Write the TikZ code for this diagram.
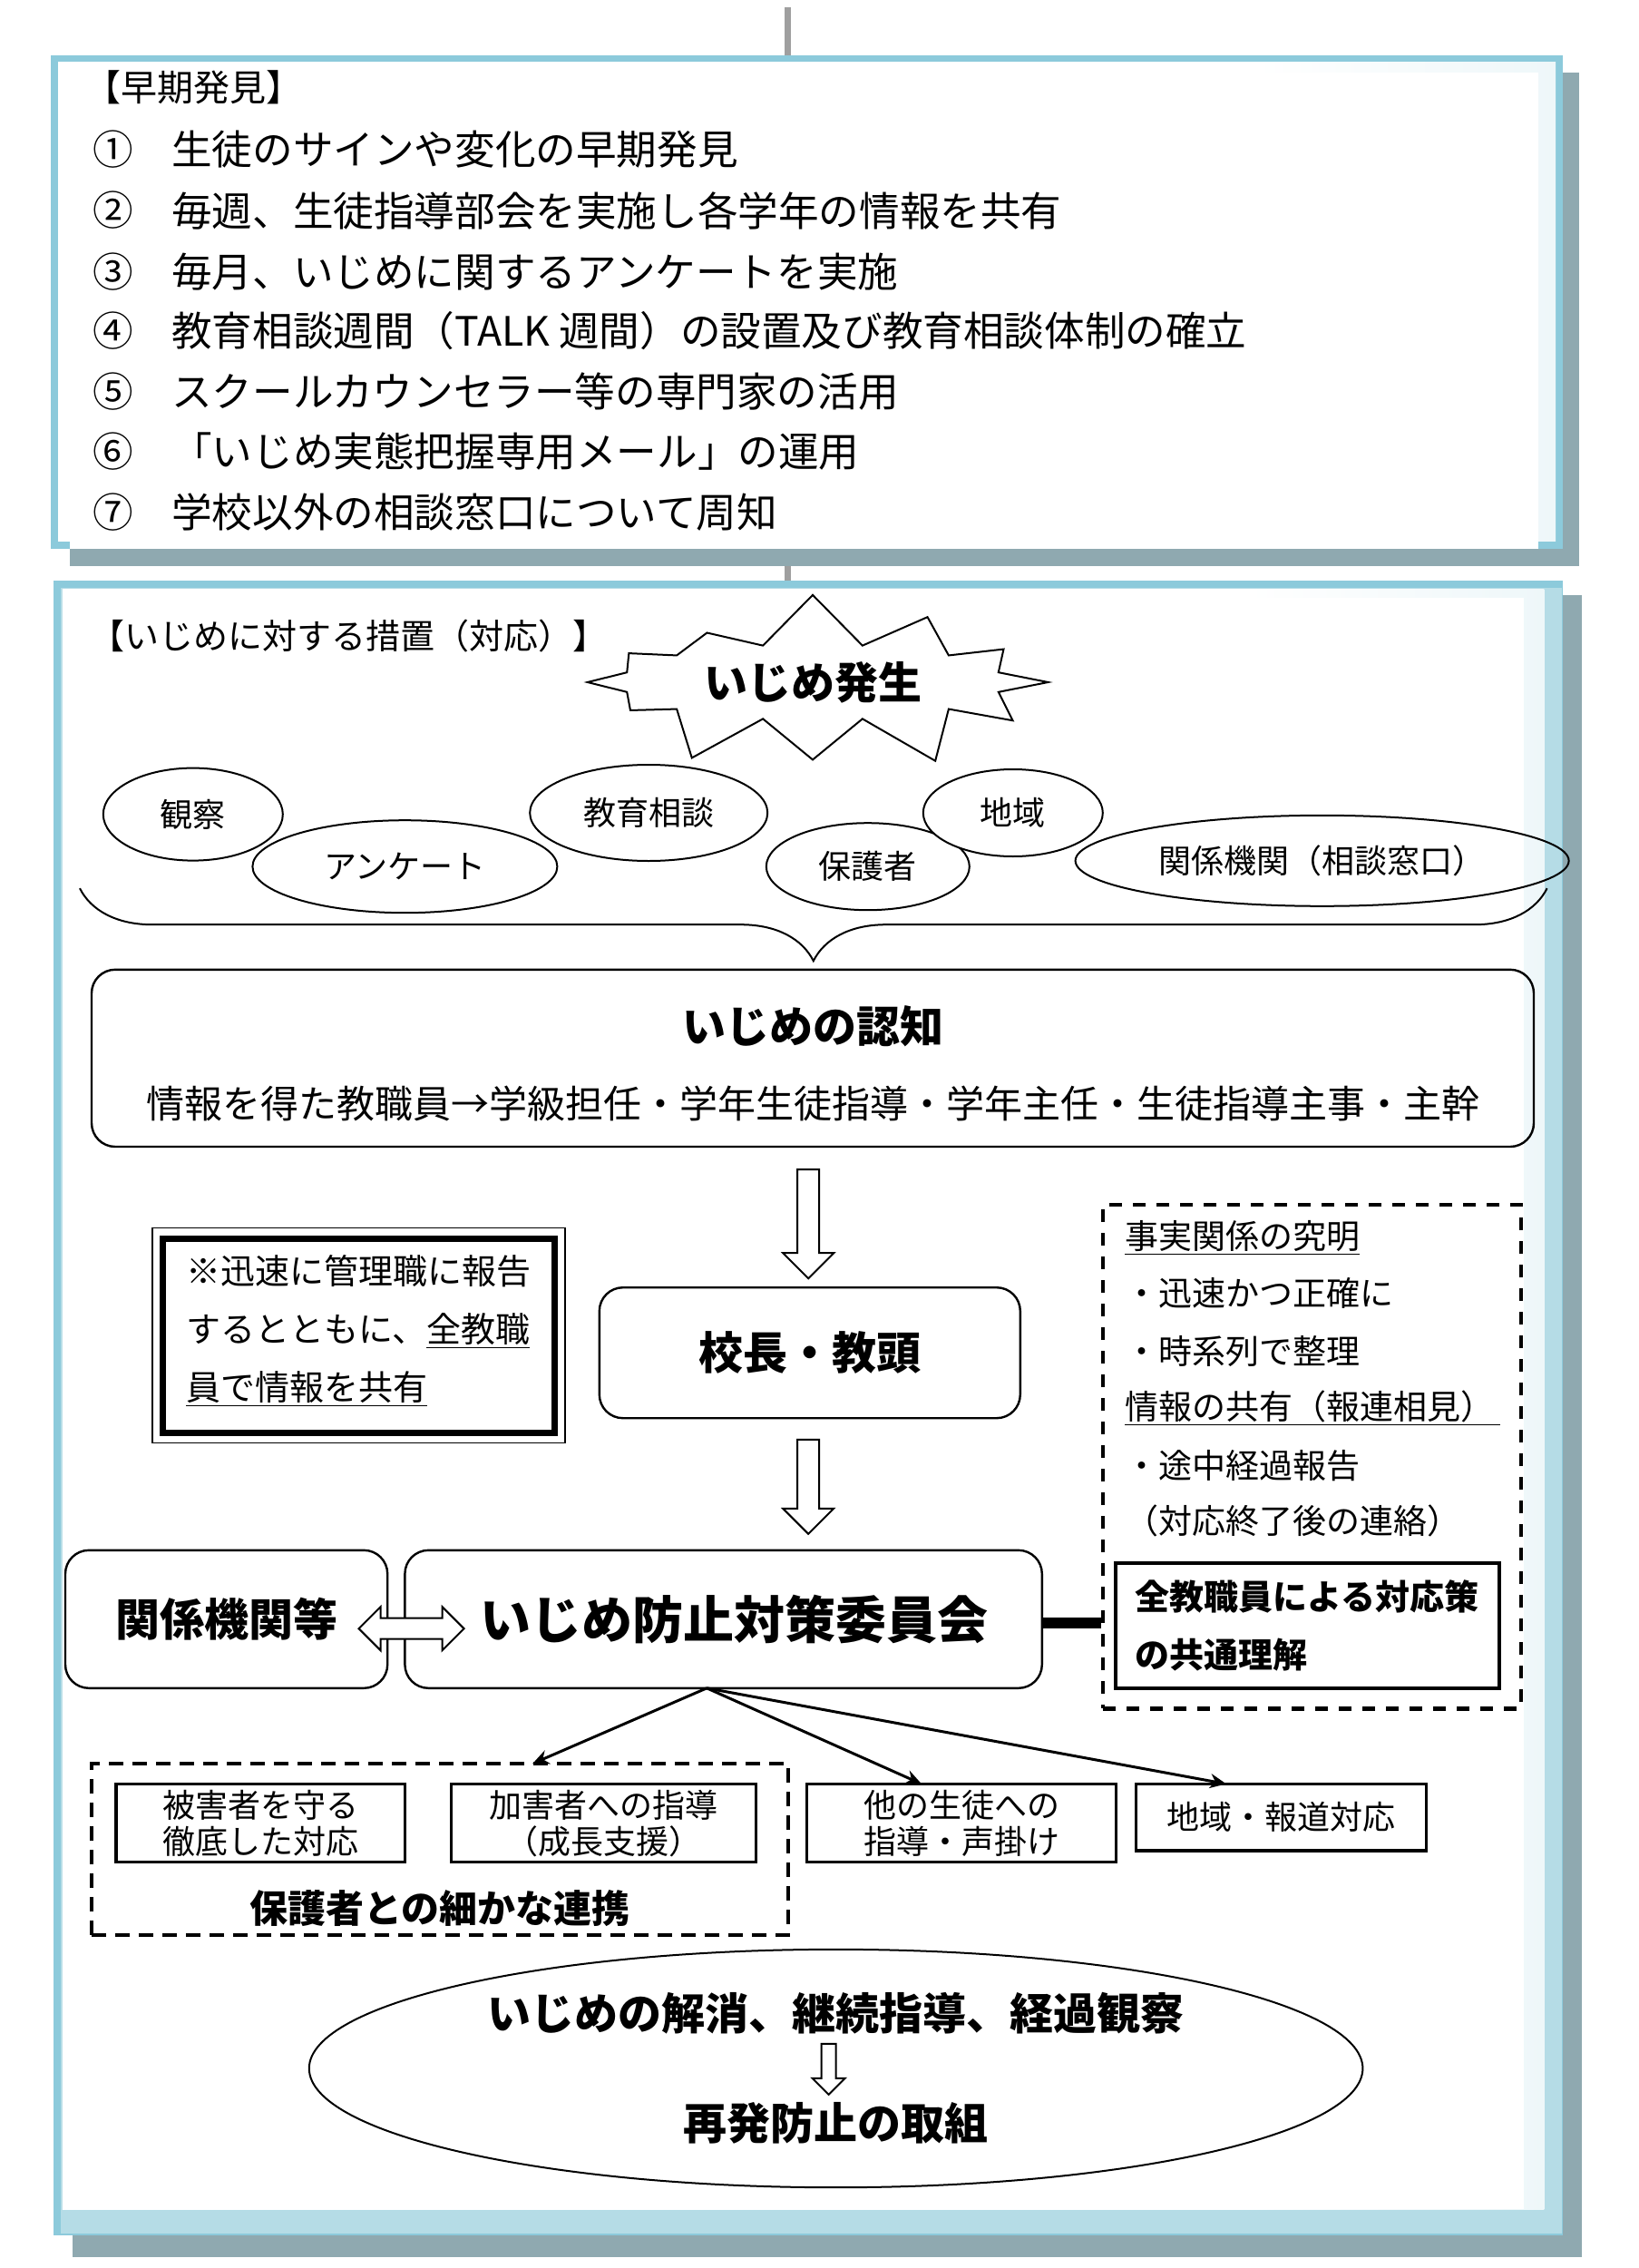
\documentclass[tikz,border=0pt]{standalone}
\usepackage{fontspec}
\setmainfont{Noto Sans CJK JP}
\usetikzlibrary{shapes.geometric,shapes.symbols,shapes.arrows,decorations.pathreplacing,arrows.meta}
\definecolor{bl}{HTML}{B5DCE6}
\definecolor{bd}{HTML}{8CCADB}
\definecolor{sh}{HTML}{8FA9B0}
\pgfdeclarehorizontalshading{boxsh}{100bp}{color(0bp)=(white); color(65bp)=(white); color(100bp)=(bl!80)}
\newcommand\fsz[2]{\fontsize{#1}{#2}\selectfont}
\newcommand\sq[1]{\rule{0pt}{#1}\rule{#1}{0pt}}
\tikzset{
  rbox/.style={draw, line width=1.2pt, rounded corners=13pt, inner sep=0pt},
  sbox/.style={draw, line width=1.6pt, inner sep=0pt, align=center, font=\fsz{18pt}{20pt}},
  oval/.style={draw, line width=1pt, ellipse, inner sep=0pt, font=\fsz{18pt}{20pt}},
  harrow/.style={draw, line width=1pt, single arrow, shape border rotate=270, inner sep=0pt, fill=white},
  txt/.style={anchor=west, inner sep=0pt},
}
\begin{document}
\begin{tikzpicture}[x=0.8pt,y=-0.8pt]
\useasboundingbox (0,0) rectangle (1128.75,1562.5);
% connectors between panels
\draw[line width=3.6pt, gray!75] (543,5) -- (543,40);
\draw[line width=3.6pt, gray!75] (543,376) -- (543,402);
% panel 1
\fill[sh] (48,50) rectangle (1088,390);
\fill[bd] (35,38) rectangle (1077,378);
\shade[shading=boxsh] (40,43) rectangle (1072,373);
\fill[white] (48,50) rectangle (1060,378);
\node[txt, font=\fsz{20pt}{22pt}] (ttl1) at (58,60) {【早期発見】};
\foreach \i/\n/\t/\y in {1/①/生徒のサインや変化の早期発見/103,
  2/②/毎週、生徒指導部会を実施し各学年の情報を共有/145,
  3/③/毎月、いじめに関するアンケートを実施/187,
  4/④/教育相談週間（TALK 週間）の設置及び教育相談体制の確立/228,
  5/⑤/スクールカウンセラー等の専門家の活用/270,
  6/⑥/「いじめ実態把握専用メール」の運用/311,
  7/⑦/学校以外の相談窓口について周知/353}{
  \node[txt, font=\fsz{22.3pt}{26pt}] (n\i) at (64,\y) {\n};
  \node[txt, font=\fsz{22.3pt}{26pt}] (t\i) at (118,\y) {\t};
}
% panel 2
\fill[sh] (50,410) rectangle (1090,1555);
\fill[bd] (37,400) rectangle (1077,1540);
\fill[bl] (42,405) rectangle (1076,1539);
\shade[shading=boxsh] (43,406) rectangle (1064,1522);
\fill[white] (50,412) rectangle (1050,1522);
\node[txt, font=\fsz{19pt}{21pt}] (ttl2) at (62,438) {【いじめに対する措置（対応）】};
\node[draw, line width=1pt, fill=white, starburst, starburst points=12, starburst point height=30pt, random starburst=7,
  minimum width=272pt, minimum height=100pt, font=\bfseries\fsz{24pt}{26pt}] (burst) at (560,470) {いじめ発生};
\node[oval, minimum width=99pt, minimum height=51pt] (e1) at (133,561) {観察};
\node[oval, minimum width=168pt, minimum height=51pt] (e2) at (279,597) {アンケート};
\node[oval, minimum width=131pt, minimum height=53pt, fill=white] (e3) at (447,560) {教育相談};
\node[oval, minimum width=112pt, minimum height=48pt] (e4) at (598,597) {保護者};
\node[oval, minimum width=99pt, minimum height=48pt, fill=white] (e5) at (698,560) {地域};
\node[oval, minimum width=272pt, minimum height=50pt] (e6) at (911,593) {関係機関（相談窓口）};
\coordinate (brR) at (1066,612);
\coordinate (brL) at (55,612);
\draw[line width=1pt, decorate, decoration={brace, amplitude=40pt}] (brR) -- (brL);
% recognition
\node[rbox, minimum width=795pt, minimum height=97.6pt] (recog) at (560,729) {};
\node[font=\bfseries\fsz{24pt}{26pt}] (rt1) at (560,707) {いじめの認知};
\node[font=\fsz{21pt}{24pt}] (rt2) at (560,760) {情報を得た教職員→学級担任・学年生徒指導・学年主任・生徒指導主事・主幹};
\node[harrow, minimum height=60pt, minimum width=28pt, single arrow head extend=8pt] (a1) at (557,839.5) {\sq{11pt}};
\node[rbox, minimum width=232pt, minimum height=72pt, font=\bfseries\fsz{24.5pt}{26pt}] (kocho) at (558,932) {校長・教頭};
\node[harrow, minimum height=52pt, minimum width=28pt, single arrow head extend=8pt] (a2) at (557,1020.5) {\sq{11pt}};
% left double frame box
\node[draw, line width=3.5pt, minimum width=216pt, minimum height=107pt, inner sep=0pt] (lb) at (247,920) {};
\draw[line width=0.9pt] ([shift={(-5,-5)}]lb.north west) rectangle ([shift={(5,5)}]lb.south east);
\node[txt, align=left, font=\fsz{19pt}{32pt}] (lbt) at (128,917) {※迅速に管理職に報告\\するとともに、\underline{全教職}\\\underline{員で情報を共有}};
% right dashed box
\node[draw, line width=2.3pt, dash pattern=on 7pt off 6pt, minimum width=230.4pt, minimum height=277.6pt, inner sep=0pt] (dashR) at (904,1003.5) {};
\node[txt, font=\fsz{18.5pt}{20pt}] (r1) at (775,853) {\underline{事実関係の究明}};
\node[txt, font=\fsz{18.5pt}{20pt}] (r2) at (775,891) {・迅速かつ正確に};
\node[txt, font=\fsz{18.5pt}{20pt}] (r3) at (775,931) {・時系列で整理};
\node[txt, font=\fsz{18.5pt}{20pt}] (r4) at (775,970) {\underline{情報の共有（報連相見）\,}};
\node[txt, font=\fsz{18.5pt}{20pt}] (r5) at (775,1010) {・途中経過報告};
\node[txt, font=\fsz{18.5pt}{20pt}] (r6) at (775,1048) {（対応終了後の連絡）};
\node[draw, line width=2pt, minimum width=211.2pt, minimum height=68.8pt, inner sep=0pt] (kyotsu) at (901,1120) {};
\node[txt, align=left, font=\bfseries\fsz{19pt}{32pt}] (kyt) at (782,1120) {全教職員による対応策\\の共通理解};
% committee row
\node[rbox, minimum width=177.6pt, minimum height=76pt, font=\bfseries\fsz{24.5pt}{26pt}] (kankei) at (156,1115.5) {\raisebox{-6pt}{関係機関等}};
\node[rbox, minimum width=351.2pt, minimum height=76pt, font=\bfseries\fsz{28pt}{30pt}] (iinkai) at (498.5,1115.5) {\hspace{12pt}いじめ防止対策委員会};
\node[draw, line width=1pt, fill=white, double arrow, double arrow head extend=6pt, minimum height=58pt, minimum width=24pt, inner sep=0pt] (da) at (283.5,1122) {\sq{10pt}};
\draw[line width=6pt] (iinkai.east |- 0,1118) -- (dashR.west |- 0,1118);
% branches
\coordinate (src) at (487,1163);
\coordinate (d1) at (367,1215);
\coordinate (d2) at (635,1229);
\coordinate (d3) at (845,1229);
\foreach \d in {d1,d2,d3}{\draw[line width=1.5pt, -{Stealth[length=9pt,width=8pt]}] (src) -- (\d);}
\node[draw, line width=2pt, dash pattern=on 8pt off 5pt, minimum width=384pt, minimum height=94.4pt, inner sep=0pt] (dashL) at (303,1274) {};
\node[sbox, minimum width=159.2pt, minimum height=43.2pt] (higai) at (179.5,1256) {被害者を守る\\徹底した対応};
\node[sbox, minimum width=168pt, minimum height=43.2pt] (kagai) at (416,1256) {加害者への指導\\（成長支援）};
\node[sbox, minimum width=170.4pt, minimum height=43.2pt] (hoka) at (662.5,1256) {他の生徒への\\指導・声掛け};
\node[sbox, minimum width=160pt, minimum height=36.8pt] (chiiki) at (883,1252) {地域・報道対応};
\node[font=\bfseries\fsz{21pt}{23pt}] (renkei) at (303,1315) {保護者との細かな連携};
% final ellipse
\node[draw, line width=1pt, ellipse, minimum width=580.8pt, minimum height=131.2pt, inner sep=0pt] (fin) at (576,1425) {};
\node[font=\bfseries\fsz{24pt}{26pt}] (f1) at (576,1387) {いじめの解消、継続指導、経過観察};
\node[harrow, minimum height=28pt, minimum width=18pt, single arrow head extend=5pt] (a3) at (571,1423) {\sq{7pt}};
\node[font=\bfseries\fsz{24pt}{26pt}] (f2) at (576,1463) {再発防止の取組};
\end{tikzpicture}
\end{document}
